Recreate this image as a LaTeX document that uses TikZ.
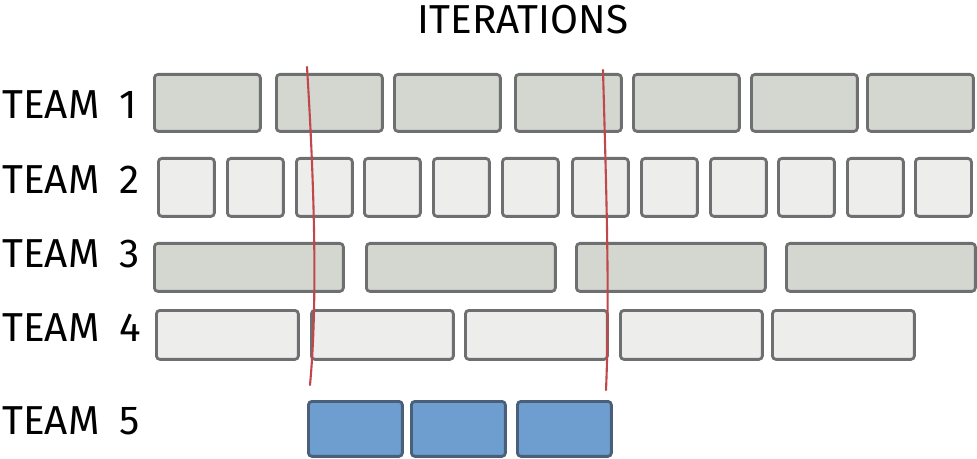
\documentclass[tikz,border=0pt]{standalone}
\usepackage{fontspec}
\setmainfont{Fira Sans}
\usepackage{tikz}
\usetikzlibrary{positioning, calc}

\definecolor{boxdark}{HTML}{D4D7D0}
\definecolor{boxlight}{HTML}{EDEDEB}
\definecolor{boxline}{HTML}{6E6F70}
\definecolor{boxblue}{HTML}{6E9ECF}
\definecolor{blueline}{HTML}{4A5F78}
\definecolor{cutred}{HTML}{C0474A}

\begin{document}
\begin{tikzpicture}[
    x=0.02cm, y=-0.02cm,
    base/.style={rectangle, rounded corners=2pt, draw=boxline, line width=1.6pt,
                 anchor=north west, inner sep=0pt},
    bigbox/.style={base, fill=boxdark, minimum width=2.12cm, minimum height=1.14cm},
    smallbox/.style={base, fill=boxlight, minimum width=1.12cm, minimum height=1.16cm},
    longbox/.style={base, fill=boxdark, minimum width=3.78cm, minimum height=0.96cm},
    midbox/.style={base, fill=boxlight, minimum width=2.84cm, minimum height=0.98cm},
    bluebox/.style={base, fill=boxblue, draw=blueline, minimum width=1.88cm, minimum height=1.1cm},
    team/.style={anchor=west, font=\fontsize{23}{26}\selectfont, inner sep=0pt},
    cut/.style={draw=cutred, line width=1.2pt, line cap=round}
]
\useasboundingbox (0,0) rectangle (977,459);

\node[font=\fontsize{23}{26}\selectfont] (title) at (523,20) {ITERATIONS};

\node[team] (lab1) at (2,105) {TEAM\hspace{4mm}1};
\node[team] (lab2) at (2,180) {TEAM\hspace{4mm}2};
\node[team] (lab3) at (2,254) {TEAM\hspace{4mm}3};
\node[team] (lab4) at (2,328) {TEAM\hspace{4mm}4};
\node[team] (lab5) at (2,421) {TEAM\hspace{4mm}5};

% team 1
\node[bigbox] (t1a) at (153,73) {};
\node[bigbox] (t1b) at (275,73) {};
\node[bigbox] (t1c) at (393,73) {};
\node[bigbox] (t1d) at (514,73) {};
\node[bigbox] (t1e) at (632,73) {};
\node[bigbox] (t1f) at (750,73) {};
\node[bigbox] (t1g) at (866,73) {};

% team 2
\node[smallbox] (t2a) at (157,157) {};
\node[smallbox] (t2b) at (226,157) {};
\node[smallbox] (t2c) at (295,157) {};
\node[smallbox] (t2d) at (363,157) {};
\node[smallbox] (t2e) at (432,157) {};
\node[smallbox] (t2f) at (501,157) {};
\node[smallbox] (t2g) at (571,157) {};
\node[smallbox] (t2h) at (640,157) {};
\node[smallbox] (t2i) at (709,157) {};
\node[smallbox] (t2j) at (777,157) {};
\node[smallbox] (t2k) at (846,157) {};
\node[smallbox] (t2l) at (914,157) {};

% team 3
\node[longbox] (t3a) at (153,242) {};
\node[longbox] (t3b) at (365,242) {};
\node[longbox] (t3c) at (575,242) {};
\node[longbox] (t3d) at (785,242) {};

% team 4
\node[midbox] (t4a) at (155,309) {};
\node[midbox] (t4b) at (310,309) {};
\node[midbox] (t4c) at (464,309) {};
\node[midbox] (t4d) at (619,309) {};
\node[midbox] (t4e) at (771,309) {};

% team 5
\node[bluebox] (t5a) at (307,400) {};
\node[bluebox] (t5b) at (410,400) {};
\node[bluebox] (t5c) at (516,400) {};

% iteration cuts
\coordinate (cutAtop) at (307,67);
\coordinate (cutAbot) at (310,385);
\coordinate (cutBtop) at (603,70);
\coordinate (cutBbot) at (606,390);
\draw[cut] (cutAtop) .. controls (314,180) and (318,300) .. (cutAbot);
\draw[cut] (cutBtop) .. controls (606,180) and (610,300) .. (cutBbot);
\end{tikzpicture}
\end{document}
